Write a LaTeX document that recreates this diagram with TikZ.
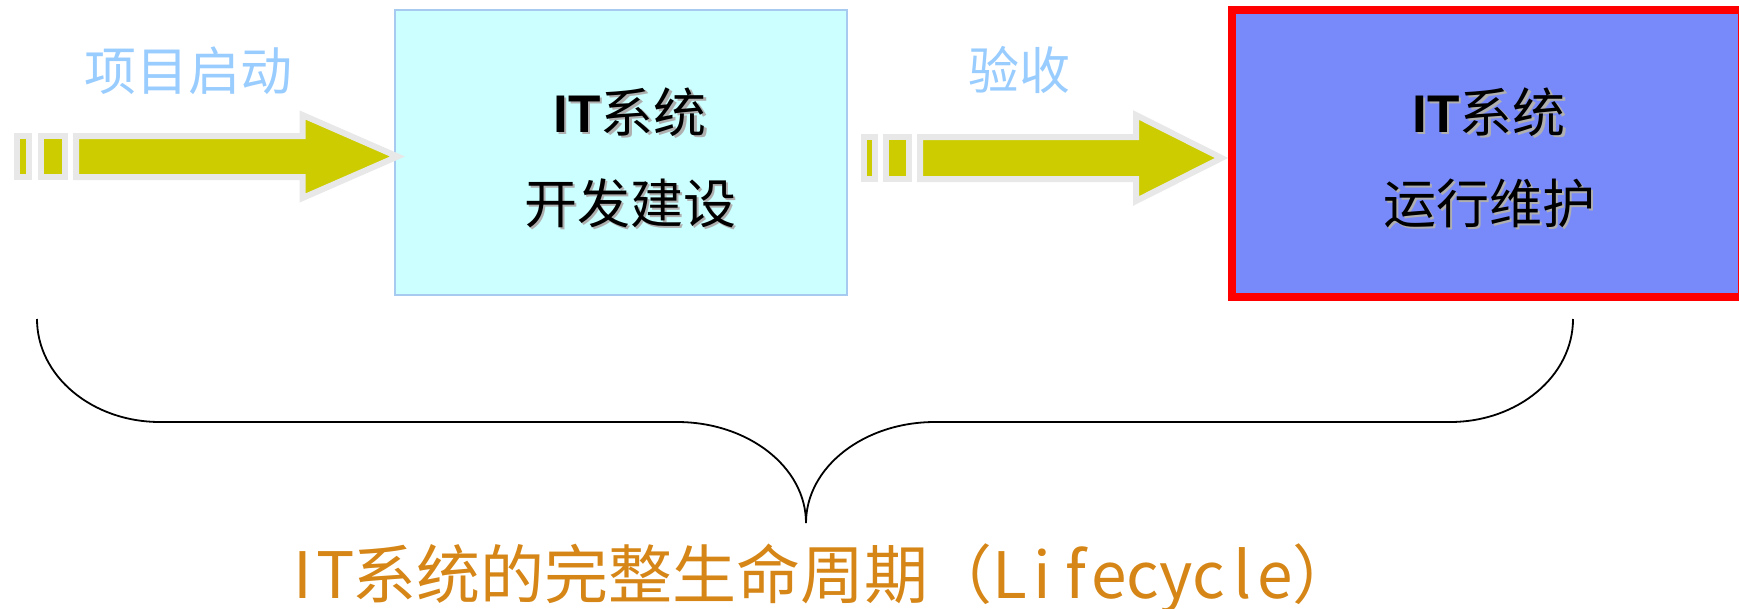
\documentclass[tikz,border=0pt]{standalone}
\usepackage{fontspec}
\setmainfont{Noto Sans CJK SC}
\newfontfamily\arialfont{Liberation Sans}
\definecolor{devfill}{RGB}{204,255,255}
\definecolor{devline}{RGB}{166,202,240}
\definecolor{opsfill}{RGB}{120,137,250}
\definecolor{opsline}{RGB}{255,0,0}
\definecolor{arrowfill}{RGB}{204,204,0}
\definecolor{arrowline}{RGB}{232,232,232}
\definecolor{labelblue}{RGB}{153,204,255}
\definecolor{lifeorange}{RGB}{213,134,22}
\definecolor{shadowgray}{RGB}{175,175,175}
\newcommand{\halfw}[1]{\makebox[0.52em][c]{#1}}
\begin{document}
\begin{tikzpicture}[x=1pt,y=-1pt,
  devbox/.style={draw=devline,fill=devfill,line width=2pt,minimum width=452pt,minimum height=285pt,inner sep=0pt},
  opsbox/.style={draw=opsline,fill=opsfill,line width=8pt,minimum width=510pt,minimum height=287pt,inner sep=0pt},
  blockarrow/.style={draw=arrowline,fill=arrowfill,line width=6pt,line join=miter,miter limit=10},
  boxtext/.style={inner sep=0pt,anchor=base,font=\fontsize{53}{60}\selectfont},
  shadowtext/.style={boxtext,text=shadowgray},
  steplabel/.style={inner sep=0pt,anchor=base,text=labelblue,font=\fontsize{52}{60}\selectfont},
  braceline/.style={draw=black,line width=1.8pt}
]
\useasboundingbox (0,0) rectangle (1739,608);

% boxes
\node[devbox] (dev) at (621,152.5) {};
\node[opsbox] (ops) at (1487,153) {};

% box texts (with shadow)
\node[shadowtext] (devAs) at (632.5,134.5) {{\arialfont\bfseries IT}系统};
\node[boxtext] (devA) at (630,132) {{\arialfont\bfseries IT}系统};
\node[shadowtext] (devBs) at (632.5,225.5) {开发建设};
\node[boxtext] (devB) at (630,223) {开发建设};
\node[shadowtext] (opsAs) at (1491.5,134.5) {{\arialfont\bfseries IT}系统};
\node[boxtext] (opsA) at (1489,132) {{\arialfont\bfseries IT}系统};
\node[shadowtext] (opsBs) at (1491.5,225.5) {运行维护};
\node[boxtext] (opsB) at (1489,223) {运行维护};

% step labels
\node[steplabel] (start) at (188,90) {项目启动};
\node[steplabel,font=\fontsize{51}{60}\selectfont] (accept) at (1019,89) {验收};

% arrow 1
\draw[blockarrow] (17,136) rectangle (29,177);
\draw[blockarrow] (41,136) rectangle (65,177);
\draw[blockarrow] (76,136) -- (302.5,136) -- (302.5,115) -- (397.5,156.5) -- (302.5,198) -- (302.5,177) -- (76,177) -- cycle;

% arrow 2
\draw[blockarrow] (864,137) rectangle (875,179);
\draw[blockarrow] (886,137) rectangle (909,179);
\draw[blockarrow] (920,137) -- (1136,137) -- (1136,115) -- (1221.5,158) -- (1136,201) -- (1136,179) -- (920,179) -- cycle;

% brace
\coordinate (braceL) at (37,319);
\coordinate (braceTip) at (806,523);
\coordinate (braceR) at (1573,319);
\draw[braceline] (braceL) .. controls (37,376) and (92,422) .. (160,422) -- (677,422)
  .. controls (748,422) and (806,467) .. (braceTip)
  .. controls (806,467) and (864,422) .. (935,422) -- (1450,422)
  .. controls (1518,422) and (1573,376) .. (braceR);

% lifecycle label
\node[inner sep=0pt,anchor=base west,text=lifeorange,font=\fontsize{64}{70}\selectfont] (life) at (286,598)
  {\halfw{I}\halfw{T}系统的完整生命周期（\halfw{L}\halfw{i}\halfw{f}\halfw{e}\halfw{c}\halfw{y}\halfw{c}\halfw{l}\halfw{e}）};
\end{tikzpicture}
\end{document}
